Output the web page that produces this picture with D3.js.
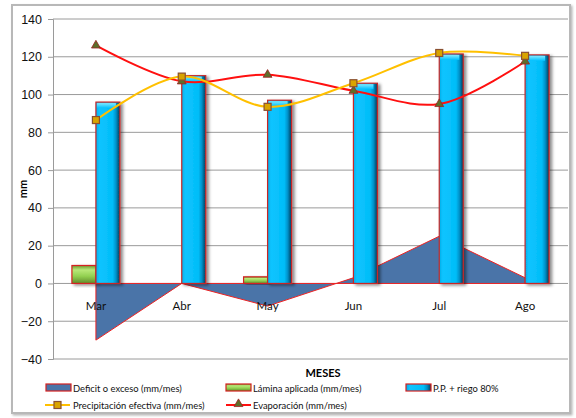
<!DOCTYPE html>
<html>
<head>
<meta charset="utf-8">
<script src="https://cdn.jsdelivr.net/npm/d3@7"></script>
<style>
  html, body { margin: 0; padding: 0; background: #fff; }
  svg { display: block; font-family: Lato, "Open Sans", "Liberation Sans", sans-serif; }
</style>
</head>
<body>
<svg id="chart" width="576" height="418"></svg>
<script>
// Monthly water balance
const months = ["Mar", "Abr", "May", "Jun", "Jul", "Ago"];
const deficit = [-30, 0, -12, 3, 25, 3];          // Deficit o exceso (mm/mes)
const lamina = [9.5, 0, 3.5, 0, 0, 0];            // Lámina aplicada (mm/mes)
const ppRiego = [96, 110, 97, 106, 121.5, 121];   // P.P. + riego 80%
const precipEf = [86.5, 109.5, 93.5, 106, 122, 120.5]; // Precipitación efectiva (mm/mes)
const evapo = [126, 107, 110.5, 102, 95, 117.5];  // Evaporación (mm/mes)
const yTicks = [-40, -20, 0, 20, 40, 60, 80, 100, 120, 140];

const svg = d3.select("#chart");
const m = { left: 53, right: 568, top: 19, bottom: 359 };

const x = d3.scaleBand().domain(months).range([m.left, m.right]);
const y = d3.scaleLinear().domain([-40, 140]).range([m.bottom, m.top]);
const cx = d => x(d) + x.bandwidth() / 2;
const barW = 24;

// defs: gradients and shadow
const defs = svg.append("defs");
const gBlue = defs.append("linearGradient").attr("id", "gBlue").attr("x1", 0).attr("x2", 1).attr("y1", 0).attr("y2", 0);
[["0%", "#00aee8"], ["15%", "#10c4ff"], ["70%", "#00bdf8"], ["84%", "#0090c8"], ["100%", "#0a3a55"]]
  .forEach(([o, c]) => gBlue.append("stop").attr("offset", o).attr("stop-color", c));
const gBlueTop = defs.append("linearGradient").attr("id", "gBlueTop").attr("x1", 0).attr("x2", 0).attr("y1", 0).attr("y2", 1);
[["0%", "#7fe8ff"], ["100%", "#00c0ff"]].forEach(([o, c]) => gBlueTop.append("stop").attr("offset", o).attr("stop-color", c));
const gGreen = defs.append("linearGradient").attr("id", "gGreen").attr("x1", 0).attr("x2", 0).attr("y1", 0).attr("y2", 1);
[["0%", "#6f9a30"], ["25%", "#b8e878"], ["60%", "#92d050"], ["100%", "#5f8a2a"]]
  .forEach(([o, c]) => gGreen.append("stop").attr("offset", o).attr("stop-color", c));
const sh = defs.append("filter").attr("id", "shadow").attr("x", "-20%").attr("y", "-20%").attr("width", "160%").attr("height", "140%");
sh.append("feDropShadow").attr("dx", 2.5).attr("dy", 1.5).attr("stdDeviation", 1.5)
  .attr("flood-color", "#000").attr("flood-opacity", 0.45);
const fr = defs.append("filter").attr("id", "frameShadow");
fr.append("feDropShadow").attr("dx", 1.5).attr("dy", 1.5).attr("stdDeviation", 1)
  .attr("flood-color", "#888").attr("flood-opacity", 0.6);

// outer frame
svg.append("rect").attr("x", 12).attr("y", 5).attr("width", 558).attr("height", 408)
  .attr("fill", "#fff").attr("stroke", "#b8b8b8").attr("stroke-width", 2).attr("filter", "url(#frameShadow)");

// gridlines
svg.append("g").selectAll("line").data(yTicks).join("line")
  .attr("x1", m.left).attr("x2", m.right)
  .attr("y1", d => y(d)).attr("y2", d => y(d))
  .attr("stroke", "#9a9a9a").attr("stroke-width", 1);

// y axis
const yAxis = svg.append("g").attr("transform", `translate(${m.left},0)`)
  .call(d3.axisLeft(y).tickValues(yTicks).tickSize(5).tickPadding(6));
yAxis.select(".domain").attr("stroke", "#9a9a9a");
yAxis.selectAll(".tick line").attr("stroke", "#9a9a9a");
yAxis.selectAll("text").attr("font-size", 12.5).attr("fill", "#111");

svg.append("text").attr("transform", `translate(27,${(m.top + m.bottom) / 2})`+" rotate(-90)")
  .attr("text-anchor", "middle").attr("font-size", 11).attr("font-weight", "bold").text("mm");

// deficit / excess area
const area = d3.area().x((d, i) => cx(months[i])).y0(y(0)).y1(d => y(d));
svg.append("path").datum(deficit).attr("d", area)
  .attr("fill", "#4a74a8").attr("stroke", "#ee2222").attr("stroke-width", 1);

// bars: lámina aplicada (left of center), P.P. + riego (right of center)
const bars = svg.append("g");
bars.selectAll("rect.lam").data(lamina.map((v, i) => ({ v, m: months[i] })).filter(d => d.v > 0)).join("rect")
  .attr("class", "lam")
  .attr("x", d => cx(d.m) - barW).attr("width", barW)
  .attr("y", d => y(d.v)).attr("height", d => y(0) - y(d.v))
  .attr("fill", "url(#gGreen)").attr("stroke", "#d42020").attr("stroke-width", 1.2)
  .attr("filter", "url(#shadow)");

const pp = bars.selectAll("g.pp").data(ppRiego.map((v, i) => ({ v, m: months[i] }))).join("g").attr("class", "pp");
pp.append("rect")
  .attr("x", d => cx(d.m)).attr("width", barW)
  .attr("y", d => y(d.v)).attr("height", d => y(0) - y(d.v))
  .attr("fill", "url(#gBlue)").attr("stroke", "#c82828").attr("stroke-width", 1.2)
  .attr("filter", "url(#shadow)");
pp.append("rect")
  .attr("x", d => cx(d.m) + 1).attr("width", barW - 5)
  .attr("y", d => y(d.v) + 1).attr("height", 5)
  .attr("fill", "url(#gBlueTop)");

// category labels
svg.append("g").selectAll("text").data(months).join("text")
  .attr("x", d => cx(d)).attr("y", y(0) + 27)
  .attr("text-anchor", "middle").attr("font-size", 11.5).attr("fill", "#111").text(d => d);

// smoothed lines
const line = d3.line().x((d, i) => cx(months[i])).y(d => y(d)).curve(d3.curveCatmullRom.alpha(0.5));
svg.append("path").datum(evapo).attr("d", line)
  .attr("fill", "none").attr("stroke", "#ff1010").attr("stroke-width", 2);
svg.append("path").datum(precipEf).attr("d", line)
  .attr("fill", "none").attr("stroke", "#ffc000").attr("stroke-width", 2);

// markers
const tri = d3.symbol().type(d3.symbolTriangle).size(34);
svg.append("g").selectAll("path").data(evapo).join("path")
  .attr("transform", (d, i) => `translate(${cx(months[i])},${y(d)})`)
  .attr("d", tri).attr("fill", "#5d6e2a").attr("stroke", "#a02020").attr("stroke-width", 0.8);
svg.append("g").selectAll("rect").data(precipEf).join("rect")
  .attr("x", (d, i) => cx(months[i]) - 3.5).attr("y", d => y(d) - 3.5)
  .attr("width", 7).attr("height", 7)
  .attr("fill", "#d9a400").attr("stroke", "#8a5030").attr("stroke-width", 1.2);

// axis title
svg.append("text").attr("x", 323).attr("y", 377).attr("text-anchor", "middle")
  .attr("font-size", 11).attr("font-weight", "bold").text("MESES");

// legend
const leg = svg.append("g").attr("font-size", 9.4).attr("fill", "#111");
const row1 = 388, row2 = 405;
function boxSwatch(xp, yp, fill) {
  leg.append("rect").attr("x", xp).attr("y", yp - 4).attr("width", 25).attr("height", 7)
    .attr("fill", fill).attr("stroke", "#d42020").attr("stroke-width", 1.2);
}
function label(xp, yp, t) {
  leg.append("text").attr("x", xp).attr("y", yp + 3.5).text(t);
}
boxSwatch(46, row1, "#4a74a8"); label(73, row1, "Deficit o exceso (mm/mes)");
boxSwatch(226, row1, "url(#gGreen)"); label(253, row1, "Lámina aplicada (mm/mes)");
boxSwatch(406, row1, "url(#gBlue)"); label(433, row1, "P.P. + riego 80%");

leg.append("line").attr("x1", 45).attr("x2", 70).attr("y1", row2).attr("y2", row2)
  .attr("stroke", "#ffc000").attr("stroke-width", 2);
leg.append("rect").attr("x", 54).attr("y", row2 - 3.5).attr("width", 7).attr("height", 7)
  .attr("fill", "#d9a400").attr("stroke", "#8a5030").attr("stroke-width", 1.2);
label(73, row2, "Precipitación efectiva (mm/mes)");

leg.append("line").attr("x1", 226).attr("x2", 251).attr("y1", row2).attr("y2", row2)
  .attr("stroke", "#ff1010").attr("stroke-width", 2);
leg.append("path").attr("transform", `translate(238.5,${row2 - 1})`).attr("d", tri)
  .attr("fill", "#5d6e2a").attr("stroke", "#a02020").attr("stroke-width", 0.8);
label(253, row2, "Evaporación (mm/mes)");
</script>
</body>
</html>
